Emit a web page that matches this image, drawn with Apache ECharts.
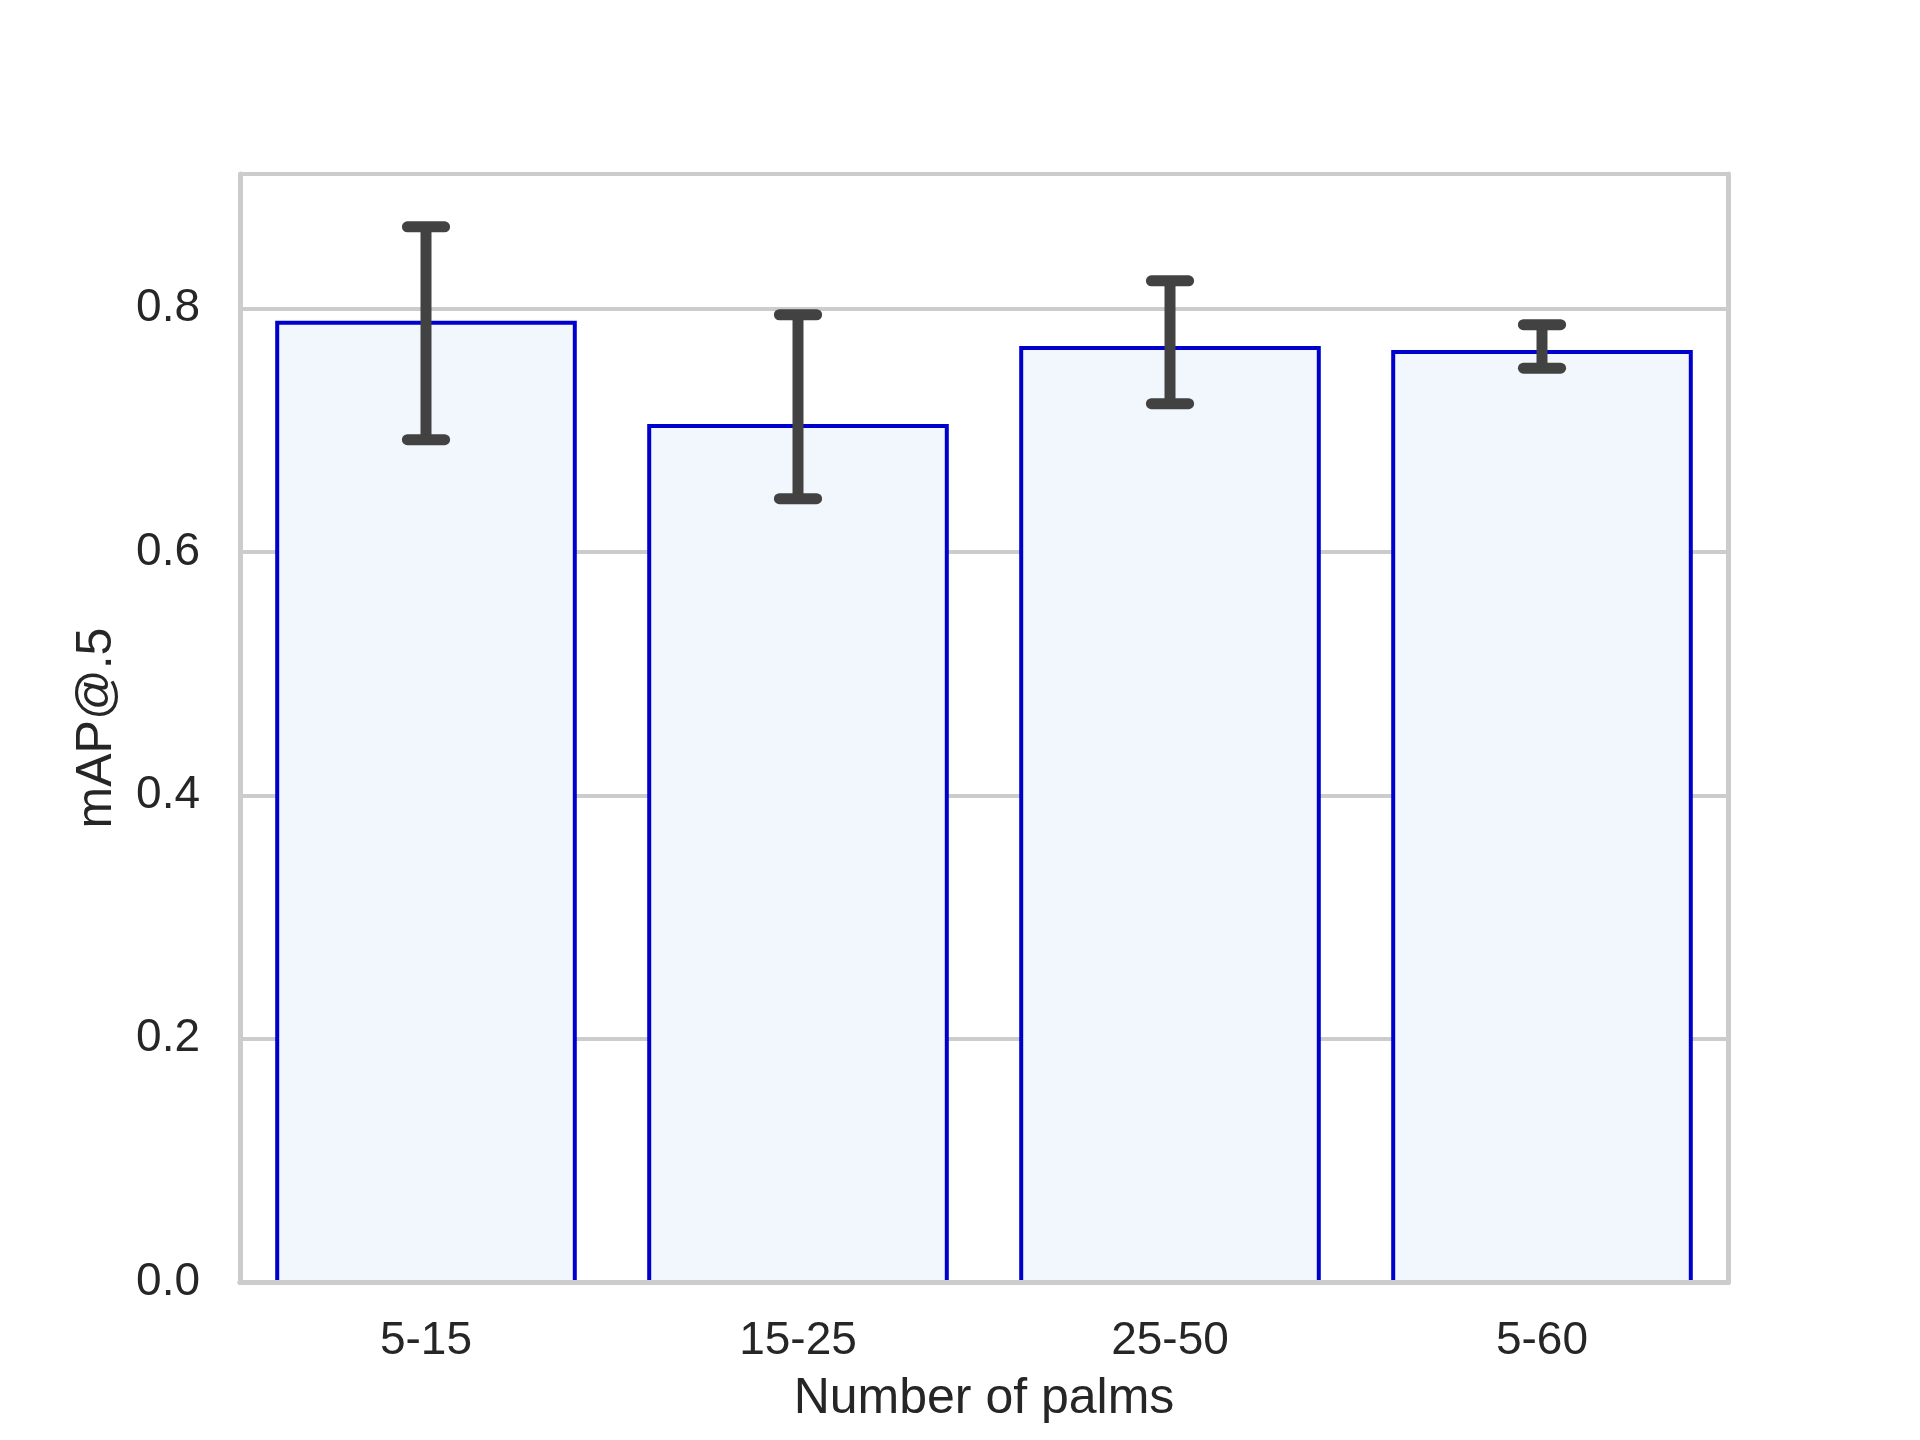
<!DOCTYPE html>
<html>
<head>
<meta charset="utf-8">
<script src="https://cdn.jsdelivr.net/npm/echarts@6/dist/echarts.min.js"></script>
<style>
html,body{margin:0;padding:0;background:#fff;}
#chart{width:1920px;height:1440px;}
</style>
</head>
<body>
<div id="chart"></div>
<script>
const categories = ['5-15', '15-25', '25-50', '5-60'];
const meanValues = [0.7885, 0.7036, 0.7677, 0.7644];
const errLower = [0.6924, 0.6439, 0.7220, 0.7512];
const errUpper = [0.8674, 0.7951, 0.8230, 0.7869];
const yTicks = [0.0, 0.2, 0.4, 0.6, 0.8];

const FONT = '"Liberation Sans", Arial, sans-serif';
const TXT = '#262626';
const SPINE = '#cccccc';

const barData = categories.map((c, i) => [i, meanValues[i]]);
const errData = categories.map((c, i) => [i, errLower[i], errUpper[i]]);

const chart = echarts.init(document.getElementById('chart'), null, {renderer: 'canvas'});
const yMax = 0.9108;

chart.setOption({
  backgroundColor: '#ffffff',
  animation: false,
  grid: {left: 240, right: 192, top: 174, bottom: 158, containLabel: false},
  xAxis: [
    {
      type: 'category', data: categories, position: 'bottom', z: 10,
      axisLine: {show: true, lineStyle: {color: SPINE, width: 5}},
      axisTick: {show: false},
      axisLabel: {color: TXT, fontSize: 46, fontFamily: FONT, margin: 36},
      splitLine: {show: false},
      name: 'Number of palms', nameLocation: 'middle', nameGap: 92,
      nameTextStyle: {color: TXT, fontSize: 50, fontFamily: FONT}
    },
    {
      type: 'category', data: categories, position: 'top', z: 10,
      axisLine: {show: true, lineStyle: {color: SPINE, width: 5}},
      axisTick: {show: false}, axisLabel: {show: false}, splitLine: {show: false}
    }
  ],
  yAxis: [
    {
      type: 'value', min: 0, max: yMax, interval: 0.2, position: 'left',
      axisLine: {show: false}, axisTick: {show: false},
      axisLabel: {
        color: TXT, fontSize: 46, fontFamily: FONT, margin: 40,
        showMaxLabel: false,
        formatter: v => (yTicks.some(t => Math.abs(t - v) < 1e-6) ? v.toFixed(1) : '')
      },
      splitLine: {show: true, lineStyle: {color: SPINE, width: 4}},
      name: 'mAP@.5', nameLocation: 'middle', nameGap: 118,
      nameTextStyle: {color: TXT, fontSize: 50, fontFamily: FONT}
    },
    {
      type: 'value', min: 0, max: yMax, position: 'right', z: 10,
      axisLine: {show: true, lineStyle: {color: SPINE, width: 5}},
      axisTick: {show: false}, axisLabel: {show: false}, splitLine: {show: false}
    },
    {
      type: 'value', min: 0, max: yMax, position: 'left', offset: 0, z: 10,
      axisLine: {show: true, lineStyle: {color: SPINE, width: 5}},
      axisTick: {show: false}, axisLabel: {show: false}, splitLine: {show: false}
    }
  ],
  series: [
    {
      type: 'custom', data: barData, xAxisIndex: 0, yAxisIndex: 0, z: 2,
      encode: {x: 0, y: 1},
      renderItem: function (params, api) {
        const i = api.value(0);
        const top = api.coord([i, api.value(1)]);
        const base = api.coord([i, 0]);
        const w = api.size([1, 0])[0] * 0.8;
        return {
          type: 'rect',
          shape: {x: top[0] - w / 2, y: top[1], width: w, height: base[1] - top[1]},
          style: {fill: '#f2f6fd', stroke: '#0000cd', lineWidth: 4}
        };
      }
    },
    {
      type: 'custom', data: errData, xAxisIndex: 0, yAxisIndex: 0, z: 5,
      encode: {x: 0, y: [1, 2]},
      renderItem: function (params, api) {
        const x = api.value(0);
        const lo = api.coord([x, api.value(1)]);
        const hi = api.coord([x, api.value(2)]);
        const half = api.size([1, 0])[0] * 0.05;
        const style = {stroke: '#424242', lineWidth: 11, lineCap: 'round'};
        return {
          type: 'group',
          children: [
            {type: 'line', shape: {x1: lo[0], y1: lo[1], x2: hi[0], y2: hi[1]}, style: Object.assign({}, style, {lineCap: 'butt'})},
            {type: 'line', shape: {x1: hi[0] - half, y1: hi[1], x2: hi[0] + half, y2: hi[1]}, style: style},
            {type: 'line', shape: {x1: lo[0] - half, y1: lo[1], x2: lo[0] + half, y2: lo[1]}, style: style}
          ]
        };
      }
    }
  ]
});
</script>
</body>
</html>
